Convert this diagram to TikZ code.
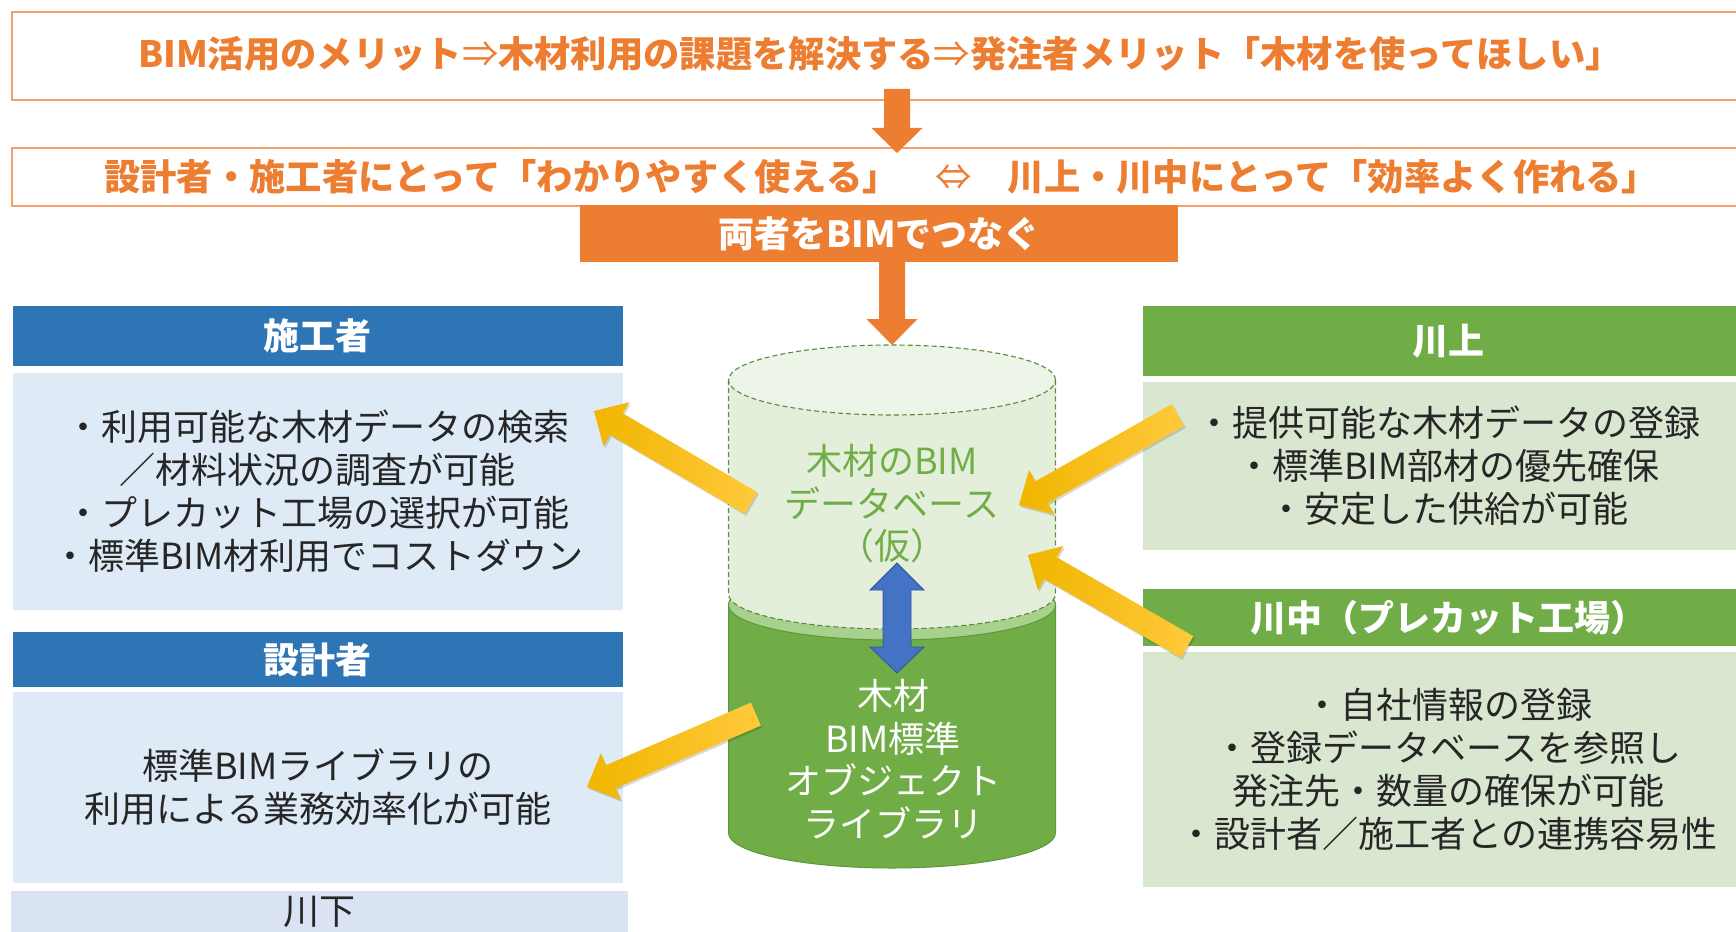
\documentclass[tikz,border=0pt]{standalone}
\usepackage{fontspec}
\setmainfont{Noto Sans CJK JP}
\usetikzlibrary{calc}
\definecolor{orng}{HTML}{ED7D31}
\definecolor{orngline}{HTML}{F3A069}
\definecolor{hblue}{HTML}{2E75B6}
\definecolor{bblue}{HTML}{DEEBF7}
\definecolor{kawashimo}{HTML}{DAE3F3}
\definecolor{hgreen}{HTML}{70AD47}
\definecolor{bgreen}{HTML}{DAE7D0}
\definecolor{txt}{HTML}{262626}
\definecolor{cgreen}{HTML}{70AD47}
\definecolor{cgreenline}{HTML}{5E963A}
\definecolor{cband}{HTML}{A9D18E}
\definecolor{cbody}{HTML}{E3EFDA}
\definecolor{ctop}{HTML}{EDF5E8}
\definecolor{cdashc}{HTML}{5A8A3C}
\definecolor{yelL}{HTML}{F0B600}
\definecolor{yelR}{HTML}{FFC93C}
\definecolor{dblue}{HTML}{4472C4}
\definecolor{dblueline}{HTML}{2F5597}
\newcommand{\blockarrow}[6]{%
  \coordinate (#2-h) at ($(#3)!#6!(#2)$);
  \path[#1] ($(#2)!#4!90:(#3)$) -- ($(#2-h)!#4!90:(#3)$) -- ($(#2-h)!#5!90:(#3)$) -- (#3)
    -- ($(#2-h)!#5!-90:(#3)$) -- ($(#2-h)!#4!-90:(#3)$) -- ($(#2)!#4!-90:(#3)$) -- cycle;}
\begin{document}
\begin{tikzpicture}[x=1pt,y=-1pt,
  banner/.style={draw=orngline, line width=1.4pt, fill=white},
  hdrbox/.style={inner sep=0pt, text=white, font=\fontsize{36}{40}\selectfont\bfseries},
  bodybox/.style={inner sep=0pt, align=center, text=txt, font=\fontsize{36}{42.9}\selectfont},
  orangetxt/.style={text=orng, font=\fontsize{36.3}{40}\selectfont\bfseries, inner sep=0pt, anchor=west},
  oarrow/.style={fill=orng},
  yarrow/.style={left color=yelL, right color=yelR},
  yshadow/.style={fill=black, opacity=0.15, transform canvas={shift={(1.5pt,-2pt)}}},
  dblarrow/.style={fill=dblue, draw=dblueline, line width=0.8pt},
  cyltxt/.style={align=center, font=\fontsize{36}{42.5}\selectfont, inner sep=0pt},
  cdash/.style={draw=cdashc, line width=1.1pt, dash pattern=on 5pt off 3pt}
]
\useasboundingbox (0,0) rectangle (1736,931);
\clip (0,0) rectangle (1736,931);
\fill[white] (0,0) rectangle (1736,931);

% top banners
\draw[banner] (12,12) rectangle (1760,100);
\node[orangetxt] (line1) at (138,54) {BIM活用のメリット{\mdseries ⇒}木材利用の課題を解決する{\mdseries ⇒}発注者メリット「木材を使ってほしい」};
\draw[banner] (12,148) rectangle (1760,206);
\node[orangetxt] (line2) at (104,177) {設計者・施工者にとって「わかりやすく使える」　{\mdseries ⇔}　川上・川中にとって「効率よく作れる」};
\node[hdrbox, fill=orng, minimum width=598pt, minimum height=57pt] (link) at (879,233.5) {両者をBIMでつなぐ};

% orange arrows
\coordinate (o1s) at (897,89);
\coordinate (o1e) at (897,153);
\blockarrow{oarrow}{o1s}{o1e}{13pt}{25.5pt}{25pt}
\coordinate (o2s) at (892,262);
\coordinate (o2e) at (892,345);
\blockarrow{oarrow}{o2s}{o2e}{13pt}{25.5pt}{26pt}

% left panels
\node[hdrbox, fill=hblue, minimum width=610.5pt, minimum height=60.5pt] (sekoH) at (317.75,335.75) {施工者};
\node[bodybox, fill=bblue, minimum width=610.5pt, minimum height=237pt] (sekoB) at (317.75,491.5)
  {・利用可能な木材データの検索\\／材料状況の調査が可能\\・プレカット工場の選択が可能\\・標準BIM材利用でコストダウン};
\node[hdrbox, fill=hblue, minimum width=610.5pt, minimum height=55pt] (sekkeiH) at (317.75,659.5) {設計者};
\node[bodybox, fill=bblue, minimum width=610.5pt, minimum height=191pt] (sekkeiB) at (317.75,787.5)
  {標準BIMライブラリの\\利用による業務効率化が可能};
\node[bodybox, fill=kawashimo, minimum width=617pt, minimum height=42pt] (kawashimo) at (319.5,912) {川下};

% right panels
\node[hdrbox, fill=hgreen, minimum width=610pt, minimum height=70pt] (kamiH) at (1448,341) {川上};
\node[bodybox, fill=bgreen, minimum width=610pt, minimum height=168pt] (kamiB) at (1448,466)
  {・提供可能な木材データの登録\\・標準BIM部材の優先確保\\・安定した供給が可能};
\node[hdrbox, fill=hgreen, minimum width=610pt, minimum height=57pt] (nakaH) at (1448,617.5) {川中（プレカット工場）};
\node[bodybox, fill=bgreen, minimum width=610pt, minimum height=235pt] (nakaB) at (1448,769.5)
  {・自社情報の登録\\・登録データベースを参照し\\発注先・数量の確保が可能\\・設計者／施工者との連携容易性};

% cylinder: lower (library)
\path[fill=cgreen, draw=cgreenline, line width=1pt] (728.5,605) -- (728.5,833)
  arc[start angle=180, end angle=360, x radius=163.5pt, y radius=35pt] -- (1055.5,605)
  arc[start angle=0, end angle=180, x radius=163.5pt, y radius=35pt] -- cycle;
\draw[fill=cband, draw=cgreenline, line width=1pt] (892,605) ellipse [x radius=163.5pt, y radius=35pt];
% cylinder: upper (database, dashed)
\path[fill=cbody] (728.5,380) -- (728.5,594)
  arc[start angle=180, end angle=360, x radius=163.5pt, y radius=35pt] -- (1055.5,380) -- cycle;
\draw[cdash] (728.5,380) -- (728.5,594)
  arc[start angle=180, end angle=360, x radius=163.5pt, y radius=35pt] -- (1055.5,380);
\draw[cdash, fill=ctop] (892,380) ellipse [x radius=163.5pt, y radius=35pt];

\node[cyltxt, text=hgreen] (dbtxt) at (892,504) {木材のBIM\\データベース\\（仮）};
\node[cyltxt, text=white] (libtxt) at (893,759) {木材\\BIM標準\\オブジェクト\\ライブラリ};

% blue double arrow
\coordinate (dbT) at (897,563);
\coordinate (dbB) at (897,673);
\path[dblarrow] (dbT) -- ($(dbT)+(27,27)$) -- ($(dbT)+(14,27)$) -- ($(dbB)+(14,-26)$) -- ($(dbB)+(27,-26)$)
  -- (dbB) -- ($(dbB)+(-27,-26)$) -- ($(dbB)+(-14,-26)$) -- ($(dbT)+(-14,27)$) -- ($(dbT)+(-27,27)$) -- cycle;

% yellow arrows
\coordinate (y1s) at (751,503);  \coordinate (y1e) at (594,411);
\coordinate (y2s) at (756,714);  \coordinate (y2e) at (587,787);
\coordinate (y3s) at (1178,415); \coordinate (y3e) at (1019,505);
\coordinate (y4s) at (1187,647); \coordinate (y4e) at (1028,555);
\blockarrow{yshadow}{y1s}{y1e}{12.5pt}{25.5pt}{26pt}
\blockarrow{yarrow}{y1s}{y1e}{12.5pt}{25.5pt}{26pt}
\blockarrow{yshadow}{y2s}{y2e}{12.5pt}{25.5pt}{26pt}
\blockarrow{yarrow}{y2s}{y2e}{12.5pt}{25.5pt}{26pt}
\blockarrow{yshadow}{y3s}{y3e}{12.5pt}{25.5pt}{26pt}
\blockarrow{yarrow}{y3s}{y3e}{12.5pt}{25.5pt}{26pt}
\blockarrow{yshadow}{y4s}{y4e}{12.5pt}{25.5pt}{26pt}
\blockarrow{yarrow}{y4s}{y4e}{12.5pt}{25.5pt}{26pt}
\end{tikzpicture}
\end{document}
